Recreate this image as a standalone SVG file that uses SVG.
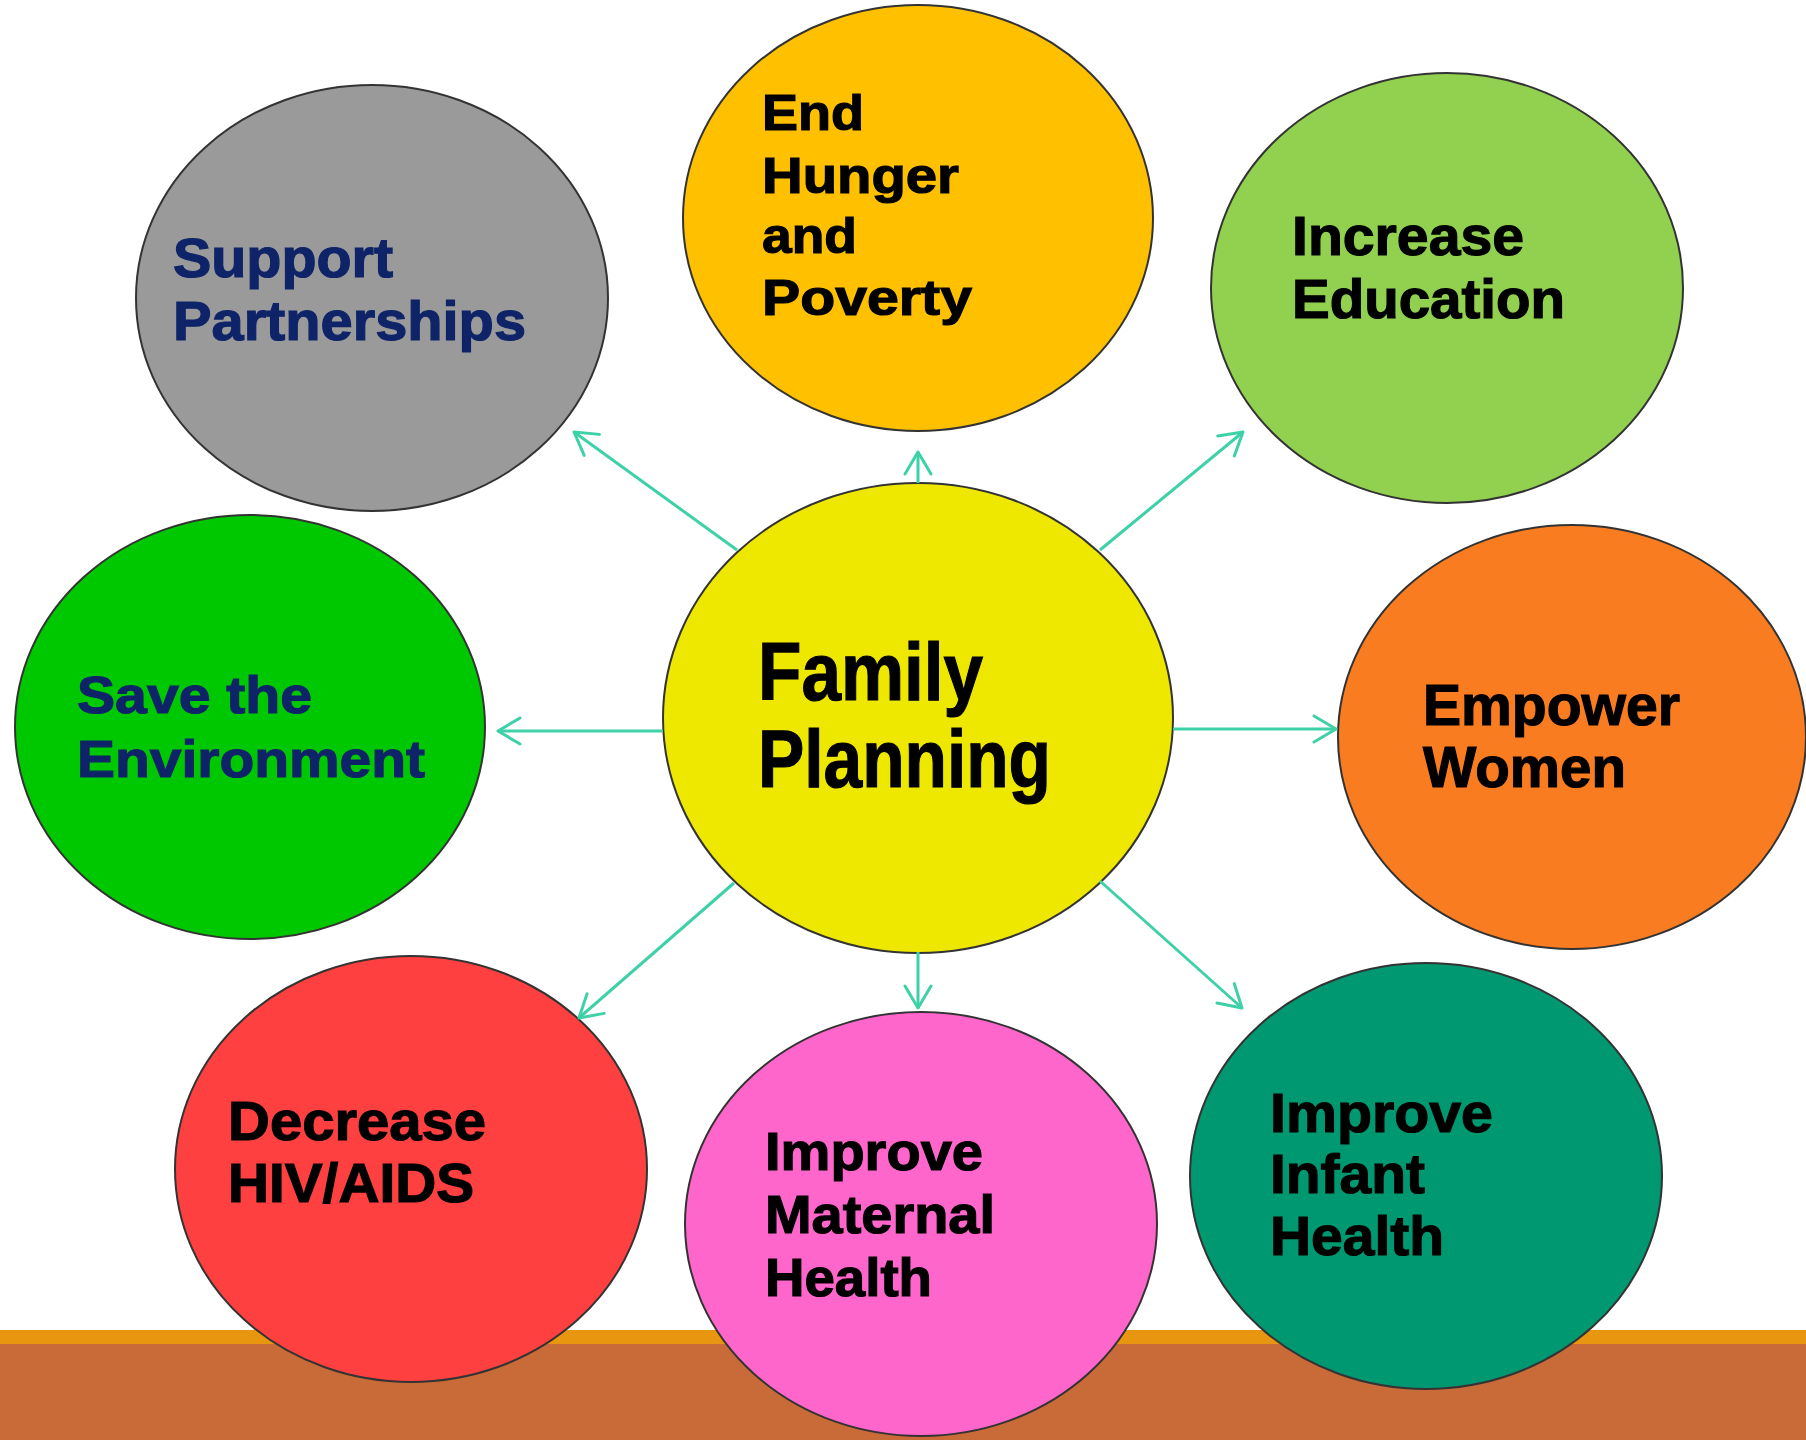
<svg xmlns="http://www.w3.org/2000/svg" width="1806" height="1440" viewBox="0 0 1806 1440">
<style>
.node ellipse{stroke:#333333;stroke-width:2}
.lbl{font-family:"Liberation Sans",Arial,sans-serif;font-weight:bold;fill:#000;stroke:#000;stroke-width:1.2}
.navy{fill:#0F2468;stroke:#0F2468}
.conn line{stroke:#3ED1A8;stroke-width:3;fill:none}
</style>
<defs>
<marker id="chev" viewBox="0 0 26 30" refX="24" refY="15" markerWidth="26" markerHeight="30" markerUnits="userSpaceOnUse" orient="auto">
<path d="M2,2 L24,15 L2,28" fill="none" stroke="#3ED1A8" stroke-width="3" stroke-linecap="round" stroke-linejoin="round"/>
</marker>
</defs>
<rect x="0" y="0" width="1806" height="1440" fill="#ffffff"/>
<g id="band">
<rect x="0" y="1330" width="1806" height="14" fill="#E8960F"/>
<rect x="0" y="1344" width="1806" height="96" fill="#C96B38"/>
</g>
<g id="n-support" class="node">
<ellipse cx="372" cy="298" rx="236" ry="213" fill="#9A9A9A"/>
<text class="lbl navy" font-size="56" x="173" y="277" textLength="220" lengthAdjust="spacingAndGlyphs">Support</text>
<text class="lbl navy" font-size="56" x="173" y="340" textLength="353" lengthAdjust="spacingAndGlyphs">Partnerships</text>
</g>
<g id="n-hunger" class="node">
<ellipse cx="918" cy="218" rx="235" ry="213" fill="#FFC000"/>
<text class="lbl" font-size="50" x="762" y="130" textLength="102" lengthAdjust="spacingAndGlyphs">End</text>
<text class="lbl" font-size="50" x="762" y="193" textLength="197" lengthAdjust="spacingAndGlyphs">Hunger</text>
<text class="lbl" font-size="50" x="762" y="253" textLength="95" lengthAdjust="spacingAndGlyphs">and</text>
<text class="lbl" font-size="50" x="762" y="315" textLength="210" lengthAdjust="spacingAndGlyphs">Poverty</text>
</g>
<g id="n-education" class="node">
<ellipse cx="1447" cy="288" rx="236" ry="215" fill="#92D050"/>
<text class="lbl" font-size="56" x="1292" y="255" textLength="232" lengthAdjust="spacingAndGlyphs">Increase</text>
<text class="lbl" font-size="56" x="1292" y="318" textLength="273" lengthAdjust="spacingAndGlyphs">Education</text>
</g>
<g id="n-environment" class="node">
<ellipse cx="250" cy="727" rx="235" ry="212" fill="#00C800"/>
<text class="lbl navy" font-size="52" x="77" y="713" textLength="235" lengthAdjust="spacingAndGlyphs">Save the</text>
<text class="lbl navy" font-size="52" x="77" y="777" textLength="348" lengthAdjust="spacingAndGlyphs">Environment</text>
</g>
<g id="n-family" class="node">
<ellipse cx="918" cy="718" rx="255" ry="235" fill="#EEE800"/>
<text class="lbl" font-size="82" x="758" y="700" textLength="225" lengthAdjust="spacingAndGlyphs">Family</text>
<text class="lbl" font-size="82" x="758" y="787" textLength="293" lengthAdjust="spacingAndGlyphs">Planning</text>
</g>
<g id="n-women" class="node">
<ellipse cx="1572" cy="737" rx="234" ry="212" fill="#F97D20"/>
<text class="lbl" font-size="57" x="1423" y="725" textLength="257" lengthAdjust="spacingAndGlyphs">Empower</text>
<text class="lbl" font-size="57" x="1423" y="787" textLength="203" lengthAdjust="spacingAndGlyphs">Women</text>
</g>
<g id="n-hiv" class="node">
<ellipse cx="411" cy="1169" rx="236" ry="213" fill="#FF4040"/>
<text class="lbl" font-size="55" x="228" y="1140" textLength="258" lengthAdjust="spacingAndGlyphs">Decrease</text>
<text class="lbl" font-size="55" x="228" y="1202" textLength="246" lengthAdjust="spacingAndGlyphs">HIV/AIDS</text>
</g>
<g id="n-maternal" class="node">
<ellipse cx="921" cy="1224" rx="236" ry="212" fill="#FF66CC"/>
<text class="lbl" font-size="54" x="765" y="1170" textLength="218" lengthAdjust="spacingAndGlyphs">Improve</text>
<text class="lbl" font-size="54" x="765" y="1233" textLength="230" lengthAdjust="spacingAndGlyphs">Maternal</text>
<text class="lbl" font-size="54" x="765" y="1296" textLength="167" lengthAdjust="spacingAndGlyphs">Health</text>
</g>
<g id="n-infant" class="node">
<ellipse cx="1426" cy="1176" rx="236" ry="213" fill="#009870"/>
<text class="lbl" font-size="55" x="1270" y="1132" textLength="223" lengthAdjust="spacingAndGlyphs">Improve</text>
<text class="lbl" font-size="55" x="1270" y="1193" textLength="155" lengthAdjust="spacingAndGlyphs">Infant</text>
<text class="lbl" font-size="55" x="1270" y="1255" textLength="174" lengthAdjust="spacingAndGlyphs">Health</text>
</g>
<g id="connectors" class="conn">
<line x1="918" y1="483" x2="918" y2="452" marker-end="url(#chev)"/>
<line x1="737" y1="550" x2="574" y2="432" marker-end="url(#chev)"/>
<line x1="1100" y1="550" x2="1243" y2="432" marker-end="url(#chev)"/>
<line x1="663" y1="731" x2="498" y2="731" marker-end="url(#chev)"/>
<line x1="1173" y1="729" x2="1336" y2="729" marker-end="url(#chev)"/>
<line x1="918" y1="952" x2="918" y2="1008" marker-end="url(#chev)"/>
<line x1="734" y1="883" x2="579" y2="1018" marker-end="url(#chev)"/>
<line x1="1100" y1="881" x2="1242" y2="1008" marker-end="url(#chev)"/>
</g>
</svg>
